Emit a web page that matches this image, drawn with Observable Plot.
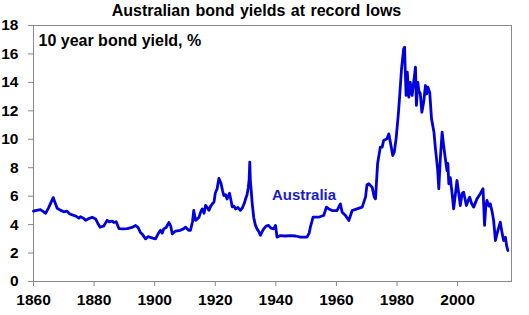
<!DOCTYPE html>
<html>
<head>
<meta charset="utf-8">
<script src="https://cdn.jsdelivr.net/npm/d3@7"></script>
<script src="https://cdn.jsdelivr.net/npm/@observablehq/plot@0.6"></script>
<style>
  html, body { margin: 0; padding: 0; background: #fff; }
  #wrap { position: relative; width: 529px; height: 315px; font-family: "Liberation Sans", Arial, sans-serif; }
  #title { position: absolute; left: 0; top: 2px; width: 513px; text-align: center; font-weight: bold; font-size: 16px; word-spacing: 1px; color: #000; }
</style>
</head>
<body>
<div id="wrap">
  <div id="title">Australian bond yields at record lows</div>
  <div id="chart"></div>
</div>
<script>
const years = [1860, 1861, 1862.3, 1863, 1864, 1865, 1866.5, 1867.2, 1867.8, 1869, 1870, 1871, 1872, 1873.3, 1874, 1875, 1875.5, 1876.5, 1877.2, 1878, 1879.4, 1880.5, 1881.2, 1882, 1883.2, 1884.3, 1885, 1886, 1886.5, 1887.3, 1888.2, 1889.5, 1891, 1892.5, 1893.7, 1894.5, 1895.3, 1896, 1897, 1897.8, 1898.6, 1899.3, 1900.3, 1901, 1901.9, 1902.5, 1903, 1903.8, 1904.7, 1905.3, 1905.8, 1906.9, 1908.5, 1909.5, 1910.2, 1911.2, 1911.8, 1912.5, 1912.9, 1913.5, 1914.6, 1915.2, 1915.7, 1916.3, 1916.8, 1917.4, 1917.9, 1918.5, 1919, 1919.6, 1920, 1920.6, 1921.2, 1921.9, 1922.4, 1922.8, 1923.4, 1923.9, 1924.7, 1925.2, 1925.6, 1926.2, 1926.7, 1927.5, 1928.3, 1929, 1929.6, 1930, 1930.5, 1930.9, 1931.2, 1931.4, 1931.6, 1931.8, 1932.2, 1932.7, 1933.2, 1933.8, 1934.4, 1934.9, 1935.5, 1936, 1936.8, 1937.6, 1938.4, 1939.3, 1939.9, 1940.4, 1941.5, 1943, 1944.8, 1946.5, 1948.1, 1950.3, 1951, 1951.4, 1952.3, 1953.6, 1954.5, 1955.8, 1956.7, 1957.5, 1958.6, 1960.2, 1961.3, 1961.9, 1963, 1964.1, 1965.2, 1966.8, 1968.5, 1969.6, 1970.1, 1970.7, 1971.8, 1972.5, 1972.9, 1973.6, 1974.5, 1975.1, 1975.6, 1976.7, 1977.3, 1977.8, 1978.6, 1979.1, 1979.7, 1980.4, 1980.9, 1981.5, 1982.2, 1982.5, 1982.7, 1983, 1983.4, 1983.9, 1984.4, 1984.7, 1985, 1985.5, 1986.1, 1986.4, 1986.9, 1987.2, 1987.7, 1988.2, 1988.8, 1989.4, 1989.8, 1990.2, 1990.8, 1991.4, 1992.2, 1992.7, 1993.4, 1993.8, 1994.3, 1994.9, 1995.4, 1995.9, 1996.5, 1996.8, 1997.1, 1997.6, 1998.2, 1998.7, 1999.2, 1999.8, 2000.4, 2000.9, 2001.5, 2002, 2002.9, 2003.5, 2004, 2004.6, 2005.3, 2006.4, 2007.5, 2008.4, 2008.9, 2009.3, 2009.7, 2010.3, 2010.8, 2011.4, 2011.9, 2012.5, 2013.2, 2014.1, 2014.7, 2015.2, 2015.8, 2016.2, 2016.6];
const yields = [4.95, 5.0, 5.05, 4.95, 4.8, 5.2, 5.9, 5.5, 5.15, 5.0, 4.9, 4.95, 4.75, 4.65, 4.6, 4.45, 4.55, 4.45, 4.3, 4.4, 4.52, 4.4, 4.1, 3.82, 3.9, 4.3, 4.2, 4.25, 4.15, 4.2, 3.72, 3.7, 3.72, 3.8, 3.94, 3.8, 3.45, 3.3, 3.0, 3.15, 3.1, 3.05, 3.0, 3.3, 3.6, 3.4, 3.7, 3.8, 4.15, 3.9, 3.35, 3.55, 3.6, 3.7, 3.82, 3.6, 3.6, 4.2, 5.0, 4.3, 4.5, 4.9, 5.1, 4.8, 5.35, 5.2, 5.0, 5.3, 5.45, 5.6, 6.2, 6.5, 7.25, 6.9, 6.4, 6.05, 6.1, 5.8, 6.2, 5.7, 5.25, 5.3, 5.1, 5.2, 5.0, 5.2, 5.5, 5.8, 6.1, 6.6, 7.2, 8.4, 7.0, 6.6, 5.5, 4.5, 4.0, 3.7, 3.5, 3.25, 3.5, 3.7, 3.9, 3.95, 3.75, 3.7, 3.94, 3.12, 3.23, 3.2, 3.23, 3.2, 3.12, 3.12, 3.4, 3.82, 4.52, 4.52, 4.55, 4.64, 5.23, 5.1, 4.99, 4.99, 5.46, 4.87, 4.64, 4.29, 4.99, 5.11, 5.23, 5.93, 6.8, 6.87, 6.63, 5.93, 5.81, 8.3, 9.45, 9.45, 9.92, 10.03, 10.38, 9.8, 8.86, 9.1, 10.03, 11.67, 13.08, 14.96, 16.36, 16.48, 15.0, 13.08, 14.72, 12.96, 14.0, 13.3, 13.08, 14.0, 15.07, 12.38, 14.0, 13.4, 13.2, 11.9, 12.6, 13.78, 13.2, 13.66, 13.3, 11.44, 10.5, 9.33, 7.92, 6.52, 8.63, 10.5, 9.56, 8.74, 7.8, 8.3, 6.87, 7.3, 6.17, 5.11, 6.0, 7.1, 6.17, 5.34, 6.2, 6.28, 5.34, 5.7, 5.93, 5.5, 5.23, 5.81, 6.17, 6.52, 3.94, 5.3, 5.7, 5.3, 5.46, 4.9, 4.29, 2.88, 3.5, 4.17, 3.4, 2.88, 3.12, 2.5, 2.18];
const xTicks = [1860, 1880, 1900, 1920, 1940, 1960, 1980, 2000];
const yTicks = [0, 2, 4, 6, 8, 10, 12, 14, 16, 18];
const seriesLabel = ["Australia"];
const seriesLabelPos = [[1949.3, 5.7]];
const axisNote = ["10 year bond yield, %"];

const data = years.map((y, i) => ({year: y, value: yields[i]}));
const labels = seriesLabel.map((t, i) => ({text: t, year: seriesLabelPos[i][0], value: seriesLabelPos[i][1]}));

const chart = Plot.plot({
  width: 529,
  height: 315,
  marginTop: 25,
  marginRight: 18,
  marginBottom: 34,
  marginLeft: 33,
  style: {fontFamily: "'Liberation Sans', Arial, sans-serif", fontSize: "15.5px", fontWeight: "bold", color: "#000", background: "#fff"},
  x: {domain: [1860, 2017.8]},
  y: {domain: [0, 18]},
  marks: [
    Plot.frame({stroke: "#888"}),
    Plot.axisX({ticks: xTicks, tickFormat: d => String(d), tickSize: 5, tickPadding: 7, stroke: "#888", fill: "#000", fontSize: 15.5, label: null}),
    Plot.axisY({ticks: yTicks, tickSize: 5, tickPadding: 10, stroke: "#888", fill: "#000", fontSize: 15.5, label: null}),
    Plot.line(data, {x: "year", y: "value", stroke: "#0000dd", strokeWidth: 2.8, strokeLinejoin: "round"}),
    Plot.text(labels, {x: "year", y: "value", text: "text", fill: "#1a1ad0", fontSize: 15, fontWeight: "bold", textAnchor: "middle", lineAnchor: "bottom"}),
    Plot.text(axisNote, {frameAnchor: "top-left", text: d => d, dx: 5, dy: 9, lineAnchor: "top", textAnchor: "start", fontSize: 16, fontWeight: "bold", fill: "#000"})
  ]
});
document.getElementById("chart").appendChild(chart);
</script>
</body>
</html>
